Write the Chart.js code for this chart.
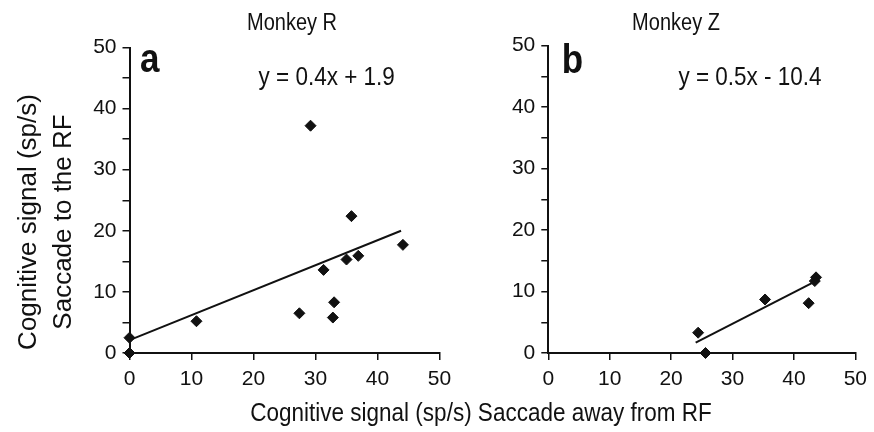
<!DOCTYPE html>
<html lang="en">

<head>
  <meta charset="utf-8" />
  <title>Monkey R / Monkey Z</title>
  <script src="https://cdn.jsdelivr.net/npm/chart.js@4.4.1/dist/chart.umd.min.js"></script>
  <style>
    body { margin: 0; background: #fff; }
    #wrap { position: relative; width: 874px; height: 432px; overflow: hidden; }
    canvas { position: absolute; top: 0; }
    #xtitle {
      position: absolute; left: 481px; top: 400px; white-space: nowrap;
      font: 22.5px "Liberation Sans", Arial, sans-serif; line-height: 26px; color: #111;
      transform: translateX(-50%) scaleY(1.15);
    }
  </style>
</head>

<body>
  <div id="wrap">
    <canvas id="chartR" width="460" height="432" style="left:0px"></canvas>
    <canvas id="chartZ" width="434" height="432" style="left:440px"></canvas>
    <div id="xtitle">Cognitive signal (sp/s) Saccade away from RF</div>
  </div>
  <script>
    // values
    const rX = [0, 0, 10.8, 27.4, 29.2, 31.3, 33.0, 32.8, 35.0, 35.8, 36.9, 44.1];
    const rY = [0, 2.5, 5.2, 6.5, 37.2, 13.6, 8.3, 5.8, 15.3, 22.4, 15.9, 17.7];
    const rFitX = [0, 43.8];
    const rFitY = [2.1, 20.0];

    const zX = [24.4, 25.6, 35.3, 42.4, 43.6, 43.4];
    const zY = [3.3, 0, 8.7, 8.1, 12.3, 11.7];
    const zFitX = [24.0, 43.0];
    const zFitY = [1.7, 11.4];

    const axisMin = 0;
    const axisMax = 50;

    const ink = '#111';
    const fam = '"Liberation Sans", Arial, sans-serif';

    // little plugin for the panel titles, letters and fit equations
    const notes = {
      id: 'notes',
      afterDraw(chart, args, opts) {
        const ctx = chart.ctx;
        (opts.items || []).forEach(n => {
          ctx.save();
          ctx.fillStyle = ink;
          ctx.font = n.font;
          ctx.textAlign = n.align || 'left';
          ctx.textBaseline = 'alphabetic';
          ctx.translate(n.x, n.y);
          if (n.rotate) ctx.rotate(n.rotate);
          ctx.scale(1, n.stretch || 1);
          ctx.fillText(n.text, 0, 0);
          ctx.restore();
        });
      }
    };

    const pairs = (xs, ys) => xs.map((x, i) => ({ x: x, y: ys[i] }));

    function makeChart(id, pts, fit, box, items, yWidth) {
      return new Chart(document.getElementById(id), {
        type: 'scatter',
        data: {
          datasets: [{
            data: pts,
            pointStyle: 'rectRot',
            pointRadius: 5.5,
            backgroundColor: ink,
            borderColor: ink,
            borderWidth: 1,
            clip: false
          }, {
            type: 'line',
            data: fit,
            borderColor: ink,
            borderWidth: 2,
            pointRadius: 0,
            fill: false,
            clip: false
          }]
        },
        options: {
          responsive: false,
          animation: false,
          layout: { padding: box },
          plugins: {
            legend: { display: false },
            tooltip: { enabled: false },
            notes: { items: items }
          },
          scales: {
            x: {
              type: 'linear',
              min: axisMin, max: axisMax,
              afterFit: s => { s.height = 79; },
              grid: { drawOnChartArea: false, drawTicks: true, tickLength: 7, color: ink, lineWidth: 1.5 },
              border: { display: true, color: ink, width: 2 },
              ticks: { stepSize: 10, padding: 7, color: ink, maxRotation: 0, autoSkip: false, font: { family: fam, size: 21 } }
            },
            y: {
              type: 'linear',
              min: axisMin, max: axisMax,
              afterFit: s => { s.width = yWidth; },
              grid: { drawOnChartArea: false, drawTicks: true, tickLength: 7, color: ink, lineWidth: 1.5 },
              border: { display: true, color: ink, width: 2 },
              ticks: {
                stepSize: 5, padding: 6, color: ink, autoSkip: false,
                font: { family: fam, size: 21 },
                callback: v => (v % 10 === 0 ? v : '')
              }
            }
          }
        },
        plugins: [notes]
      });
    }

    makeChart('chartR', pairs(rX, rY), pairs(rFitX, rFitY),
      { left: 0, top: 47.5, right: 20.5, bottom: 0 },
      [
        { text: 'Monkey R', x: 292, y: 30, font: '20px ' + fam, align: 'center', stretch: 1.15 },
        { text: 'a', x: 140, y: 72, font: 'bold 35px ' + fam, stretch: 1.15 },
        { text: 'y = 0.4x + 1.9', x: 326.7, y: 85, font: '22.5px ' + fam, align: 'center', stretch: 1.15 },
        { text: 'Cognitive signal (sp/s)', x: 36, y: 222, font: '26px ' + fam, align: 'center', rotate: -Math.PI / 2 },
        { text: 'Saccade to the RF', x: 71, y: 222, font: '26px ' + fam, align: 'center', rotate: -Math.PI / 2 }
      ], 129.5);

    makeChart('chartZ', pairs(zX, zY), pairs(zFitX, zFitY),
      { left: 0, top: 45.5, right: 15.7, bottom: 0 },
      [
        { text: 'Monkey Z', x: 236, y: 30, font: '20px ' + fam, align: 'center', stretch: 1.15 },
        { text: 'b', x: 121.7, y: 73, font: 'bold 35px ' + fam, stretch: 1.15 },
        { text: 'y = 0.5x - 10.4', x: 310, y: 85, font: '22.5px ' + fam, align: 'center', stretch: 1.15 }
      ], 108.3);
  </script>
</body>

</html>
